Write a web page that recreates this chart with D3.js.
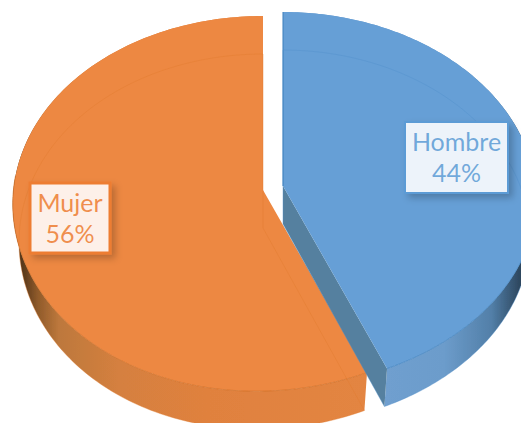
<!DOCTYPE html>
<html><head><meta charset="utf-8">
<script src="https://cdn.jsdelivr.net/npm/d3@7"></script>
<style>html,body{margin:0;padding:0;background:#fff;overflow:hidden}svg{display:block}</style>
</head><body><svg id="c" width="521" height="423"></svg>
<script>
const categories = ["Hombre", "Mujer"];
const values = [44, 56];
const percentLabels = ["44%", "56%"];

const svg = d3.select("#c");
const defs = svg.append("defs");
const RX = 251, RY = 186.5, K = 0.072, DEPTH = 38, BOTTOM_SCALE = 0.975, SKEW_X = 5, SKEW_Y = 9;
const slicesLayout = [
  {apex:[283,186], top:"#669fd6", cut:"#54809f", edge:"#3f82bf", line:"#4f8fca",
   stops:[[0,"#6f9fcf"],[0.4,"#6c9ccb"],[0.72,"#527fa8"],[0.9,"#2f4a63"],[1,"#233648"]],
   box:[405,122,103,71], boxStroke:"#5b9bd5", boxFill:"#edf3fa", text:"#5b9bd5", font:25},
  {apex:[263,190], top:"#ed8842", cut:"#c8702f", edge:"#cf6e25", line:"#e27a2c",
   stops:[[0,"#3d2a18"],[0.03,"#5a3a1c"],[0.07,"#8f5a2a"],[0.13,"#bd783c"],[0.3,"#d5803f"],[0.55,"#e0813e"],[1,"#e38542"]],
   box:[30,183,80,70], boxStroke:"#ed7d31", boxFill:"#fdf0e9", text:"#ed7d31", font:25}
];
const arcs = d3.pie().sort(null).startAngle(0).endAngle(2*Math.PI)(values);

function rimPoint(theta, apex){
  const c = Math.cos(theta), s = Math.sin(theta), w = 1 + K*c, q = (1-c)/2;
  return [apex[0] + (RX*s + SKEW_X*q*q)/w, apex[1] - (RY*c + SKEW_Y*s*q*q)/w];
}
const lower = (p, apex) => [apex[0] + (p[0]-apex[0])*BOTTOM_SCALE, p[1] + DEPTH];
const line = d3.line();

const f = defs.append("filter").attr("id","soft").attr("x","-5%").attr("y","-5%").attr("width","110%").attr("height","110%");
f.append("feGaussianBlur").attr("stdDeviation",0.45);
const sh = defs.append("filter").attr("id","shadow").attr("x","-20%").attr("y","-20%").attr("width","145%").attr("height","145%");
sh.append("feDropShadow").attr("dx",4).attr("dy",4).attr("stdDeviation",3.5).attr("flood-color","#000").attr("flood-opacity",0.22);

const root = svg.append("g").attr("filter","url(#soft)");
const order = [1,0];
order.forEach(i => {
  const a = arcs[i], L = slicesLayout[i], apex = L.apex;
  const thetas = d3.range(0,181).map(t => a.startAngle + (a.endAngle-a.startAngle)*t/180);
  const rim = thetas.map(t => rimPoint(t,apex));
  const low = rim.map(p => lower(p,apex));
  const apexLow = lower(apex,apex);
  const gid = "side"+i;
  const xs = rim.concat(low).map(p=>p[0]);
  const g = defs.append("linearGradient").attr("id",gid).attr("gradientUnits","userSpaceOnUse")
    .attr("x1", i===0 ? 385 : d3.min(xs)).attr("x2", i===0 ? 533 : d3.max(xs)).attr("y1",0).attr("y2",0);
  L.stops.forEach(s => g.append("stop").attr("offset",s[0]).attr("stop-color",s[1]));
  root.append("path").attr("d", line(rim.concat(low.slice().reverse()))+"Z").attr("fill",`url(#${gid})`);
  if(i===0){
    root.append("path").attr("d", line([apex, rim[rim.length-1], low[low.length-1], apexLow])+"Z").attr("fill",L.cut);
  }
  root.append("path").attr("d", line([apex].concat(rim))+"Z").attr("fill",L.top);
  const front = rim.filter((p,j) => Math.cos(thetas[j]) < 0.1);
  root.append("path").attr("d", line(front)).attr("fill","none")
    .attr("stroke",L.edge).attr("stroke-width",1).attr("stroke-opacity",0.7);
  if(i===0){
    root.append("path").attr("d", line([rim[0], apex])).attr("fill","none")
      .attr("stroke",L.edge).attr("stroke-width",1.5).attr("stroke-opacity",0.7);
  }
  root.append("path").attr("d", line([apexLow].concat(low))+"Z").attr("fill","none")
    .attr("stroke",L.line).attr("stroke-width",1).attr("stroke-opacity",0.4);
});

order.forEach(i => {
  const L = slicesLayout[i], b = L.box;
  const g = svg.append("g");
  g.append("rect").attr("x",b[0]).attr("y",b[1]).attr("width",b[2]).attr("height",b[3])
    .attr("fill",L.boxFill).attr("stroke",L.boxStroke).attr("stroke-width",i===1?3:2).attr("filter","url(#shadow)");
  const tx = g.append("text").attr("text-anchor","middle").attr("font-family","Lato, 'Open Sans', sans-serif")
    .attr("font-size",L.font).attr("font-weight",400).attr("fill-opacity",0.85).attr("fill",L.text);
  tx.append("tspan").attr("x",b[0]+b[2]/2).attr("y",b[1]+29).text(categories[i]);
  tx.append("tspan").attr("x",b[0]+b[2]/2).attr("y",b[1]+60).text(percentLabels[i]);
});
</script></body></html>
